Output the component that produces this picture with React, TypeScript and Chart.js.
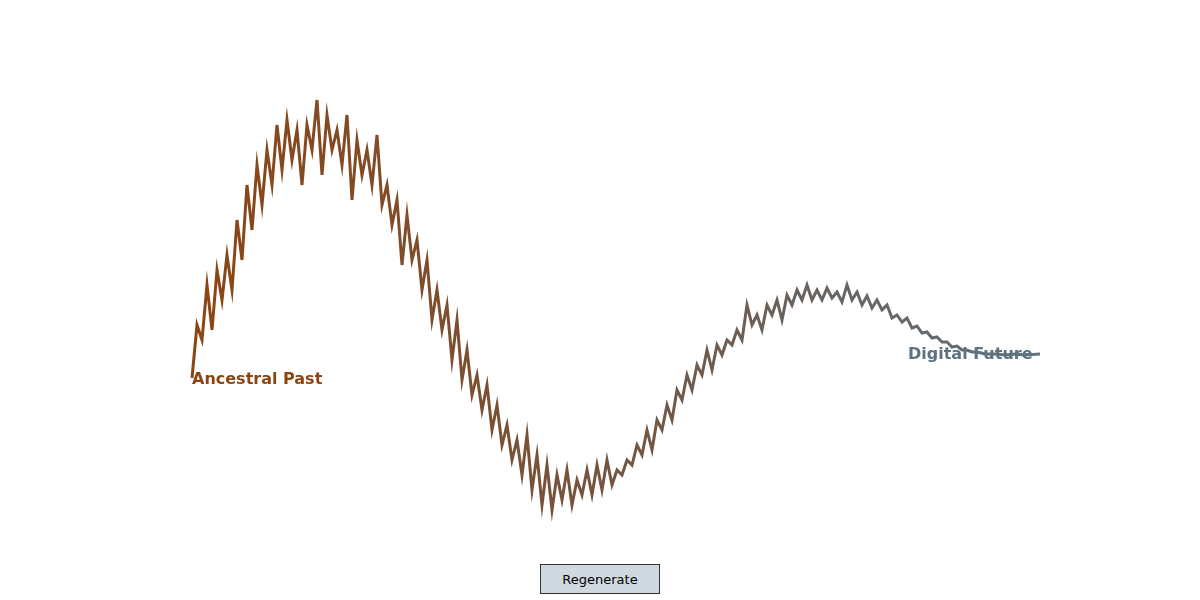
import React, { useEffect, useRef } from "react";
import { Chart, registerables } from "chart.js";
Chart.register(...registerables);

const xs = [192,197,202,207,212,217,222,227,232,237,242,247,252,257,262,267,272,277,282,287,292,297,302,307,312,317,322,327,332,337,342,347,352,357,362,367,372,377,382,387,392,397,402,407,412,417,422,427,432,437,442,447,452,457,462,467,472,477,482,487,492,497,502,507,512,517,522,527,532,537,542,547,552,557,562,567,572,577,582,587,592,597,602,607,612,617,622,627,632,637,642,647,652,657,662,667,672,677,682,687,692,697,702,707,712,717,722,727,732,737,742,747,752,757,762,767,772,777,782,787,792,797,802,807,812,817,822,827,832,837,842,847,852,857,862,867,872,877,882,887,892,897,902,907,912,917,922,927,932,937,942,947,952,957,962,967,972,977,985,995,1005,1015,1025,1040];
const depth = [378,325,340,285,330,270,300,255,290,220,260,185,230,165,205,150,185,125,170,120,160,130,185,125,150,100,175,115,150,130,165,115,200,140,175,150,185,135,205,185,225,200,265,215,260,240,290,260,320,290,330,305,360,320,380,350,395,375,410,385,430,405,445,425,460,440,475,435,490,455,505,465,510,475,500,470,505,480,495,470,495,465,490,460,485,470,475,460,465,445,455,430,450,420,430,405,420,390,400,375,390,365,375,350,370,345,355,340,345,330,340,305,325,315,330,305,315,300,320,295,305,290,300,285,300,290,300,288,298,292,302,285,300,292,305,296,308,300,310,305,318,315,322,318,328,326,333,332,338,337,342,342,347,346,350,350,352,352,354,354,355,354,355,354];
const startLabel = "Ancestral Past";
const endLabel = "Digital Future";

export default function App() {
  const ref = useRef<HTMLCanvasElement>(null);
  useEffect(() => {
    document.body.style.margin = "0";
    const chart = new Chart(ref.current!, {
      type: "line",
      data: {
        datasets: [{
          data: xs.map((x, i) => ({ x, y: depth[i] })),
          borderWidth: 3,
          pointRadius: 0,
          tension: 0,
          borderColor: (ctx: any) => {
            const { chart } = ctx;
            const g = chart.ctx.createLinearGradient(192, 0, 1040, 0);
            g.addColorStop(0, "#8B4513");
            g.addColorStop(0.5, "#745540");
            g.addColorStop(1, "#5d7382");
            return g;
          },
        }],
      },
      options: {
        animation: false,
        responsive: false,
        layout: { padding: 0 },
        plugins: { legend: { display: false }, tooltip: { enabled: false } },
        scales: {
          x: { type: "linear", min: 0, max: 1200, display: false },
          y: { min: 0, max: 560, reverse: true, display: false },
        },
      },
    });
    return () => chart.destroy();
  }, []);
  const lbl: React.CSSProperties = { position: "absolute", fontFamily: "'DejaVu Sans', sans-serif", fontWeight: "bold", fontSize: 16 };
  return (
    <div style={{ position: "relative", width: 1200, height: 600, background: "#fff" }}>
      <canvas ref={ref} width={1200} height={560} style={{ position: "absolute", left: 0, top: 0 }} />
      <div style={{ ...lbl, left: 192, top: 369, color: "#8B4513" }}>{startLabel}</div>
      <div style={{ ...lbl, left: 908, top: 344, color: "#5d7382" }}>{endLabel}</div>
      <button style={{ position: "absolute", left: 540, top: 564, width: 120, height: 30, background: "#d1d9e0", border: "1px solid #333", fontFamily: "'DejaVu Sans', sans-serif", fontSize: 13 }}>Regenerate</button>
    </div>
  );
}
